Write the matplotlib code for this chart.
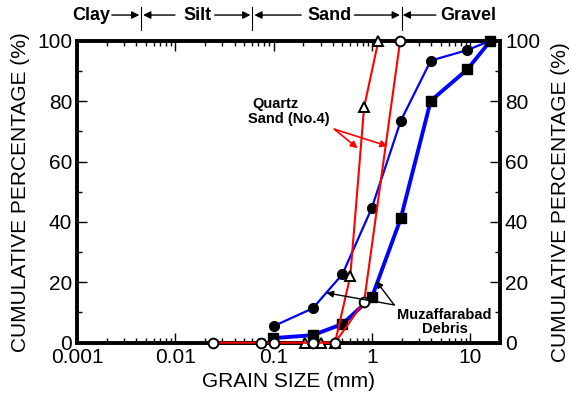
import numpy as np
import matplotlib
matplotlib.use('Agg')
import matplotlib.pyplot as plt
from matplotlib.ticker import FixedLocator, LogLocator, NullFormatter, FuncFormatter
import matplotlib.transforms as mtransforms

plt.rcParams['font.family'] = ['Liberation Sans', 'DejaVu Sans']

# Quartz sand (No.4), two gradings
qs_tri_x = [0.21, 0.30, 0.42, 0.60, 0.83, 1.16]
qs_tri_y = [0, 0, 0, 22, 78, 100]
qs_circ_x = [0.024, 0.075, 0.10, 0.25, 0.42, 0.83, 1.93]
qs_circ_y = [0, 0, 0, 0, 0, 13.6, 100]

# Muzaffarabad debris, two samples
md_circ_x = [0.10, 0.25, 0.50, 0.99, 1.96, 3.95, 9.3, 16]
md_circ_y = [5.5, 11.4, 22.7, 44.5, 73.5, 93.4, 96.9, 100]
md_sq_x = [0.098, 0.25, 0.50, 1.0, 1.96, 3.95, 9.3, 16]
md_sq_y = [1.5, 2.5, 6.2, 15.2, 41.2, 80.1, 90.5, 100]

# soil class boundaries (mm)
bounds = [0.0045, 0.06, 2.0]
classes = ['Clay', 'Silt', 'Sand', 'Gravel']

fig = plt.figure(figsize=(5.71, 3.96), dpi=100)
ax = fig.add_axes([0.1349, 0.1346, 0.7408, 0.7626])

ax.plot(md_circ_x, md_circ_y, color='#0000ff', lw=1.6, marker='o', ms=7,
        mfc='black', mec='black', clip_on=False, zorder=3)
ax.plot(md_sq_x, md_sq_y, color='#0000ff', lw=2.8, marker='s', ms=7.5,
        mfc='black', mec='black', clip_on=False, zorder=3)
ax.plot(qs_tri_x, qs_tri_y, color='#ff0000', lw=1.5, marker='^', ms=7,
        mfc='white', mec='black', mew=1.4, clip_on=False, zorder=4)
ax.plot(qs_circ_x, qs_circ_y, color='#ff0000', lw=1.5, marker='o', ms=7,
        mfc='white', mec='black', mew=1.4, clip_on=False, zorder=4)

ax.set_xscale('log')
ax.set_xlim(0.001, 20)
ax.set_ylim(0, 100)
ax.xaxis.set_major_locator(FixedLocator([0.001, 0.01, 0.1, 1, 10]))
ax.xaxis.set_minor_locator(LogLocator(base=10, subs=np.arange(2, 10)))
ax.xaxis.set_minor_formatter(NullFormatter())
ax.xaxis.set_major_formatter(FuncFormatter(lambda v, p: '%g' % v))
ax.set_yticks([0, 20, 40, 60, 80, 100])
ax.set_yticks([10, 30, 50, 70, 90], minor=True)

for s in ax.spines.values():
    s.set_linewidth(2.8)
ax.tick_params(which='both', direction='in', top=True, right=True,
               labelsize=15, pad=3.5, width=1)
ax.tick_params(which='major', length=7)
ax.tick_params(which='minor', length=3.5)
ax.tick_params(axis='y', labelright=True)

ax.set_xlabel('GRAIN SIZE (mm)', fontsize=15, labelpad=4)
ax.set_ylabel('CUMULATIVE PERCENTAGE (%)', fontsize=15, labelpad=5)
fig.text(0.981, 0.49, 'CUMULATIVE PERCENTAGE (%)', fontsize=15,
         rotation=90, ha='center', va='center')

# annotations inside plot
ax.text(0.1054, 79, 'Quartz', fontsize=10.5, fontweight='bold',
        ha='center', va='center')
ax.text(0.141, 74, 'Sand (No.4)', fontsize=10.5, fontweight='bold',
        ha='center', va='center')
for hx, hy in [(0.713, 64.4), (1.436, 65.1)]:
    ax.annotate('', xy=(hx, hy), xytext=(0.414, 70.7),
                arrowprops=dict(arrowstyle='-|>', color='#ff0000', lw=1.2,
                                mutation_scale=10, shrinkA=0, shrinkB=0),
                zorder=5)

ax.text(5.46, 6.8, 'Muzaffarabad\nDebris', fontsize=10.5, fontweight='bold',
        ha='center', va='center', linespacing=1.0)
for hx, hy in [(0.343, 16.5), (1.10, 20.4)]:
    ax.annotate('', xy=(hx, hy), xytext=(1.68, 12.5),
                arrowprops=dict(arrowstyle='-|>', color='black', lw=1.0,
                                mutation_scale=10, shrinkA=0, shrinkB=0),
                zorder=5)

# soil classification bar above the axes
trans = mtransforms.blended_transform_factory(ax.transData, ax.transAxes)
for b in bounds:
    ax.plot([b, b], [1.035, 1.112], color='black', lw=0.8,
            transform=trans, clip_on=False)

text_x = [0.00139, 0.0169, 0.372, 9.46]
for name, tx in zip(classes, text_x):
    ax.text(tx, 1.085, name, fontsize=13, fontweight='bold', ha='center',
            va='center', transform=trans)

arrows = [(0.00226, 0.0043), (0.0099, 0.0047), (0.0251, 0.058),
          (0.19, 0.0635), (0.66, 1.92), (4.45, 2.05)]
for x0, x1 in arrows:
    ax.annotate('', xy=(x1, 1.085), xytext=(x0, 1.085),
                xycoords=trans, textcoords=trans,
                arrowprops=dict(arrowstyle='-|>', color='black', lw=1.0,
                                mutation_scale=11, shrinkA=0, shrinkB=0))

fig.savefig('out.png', dpi=100)
